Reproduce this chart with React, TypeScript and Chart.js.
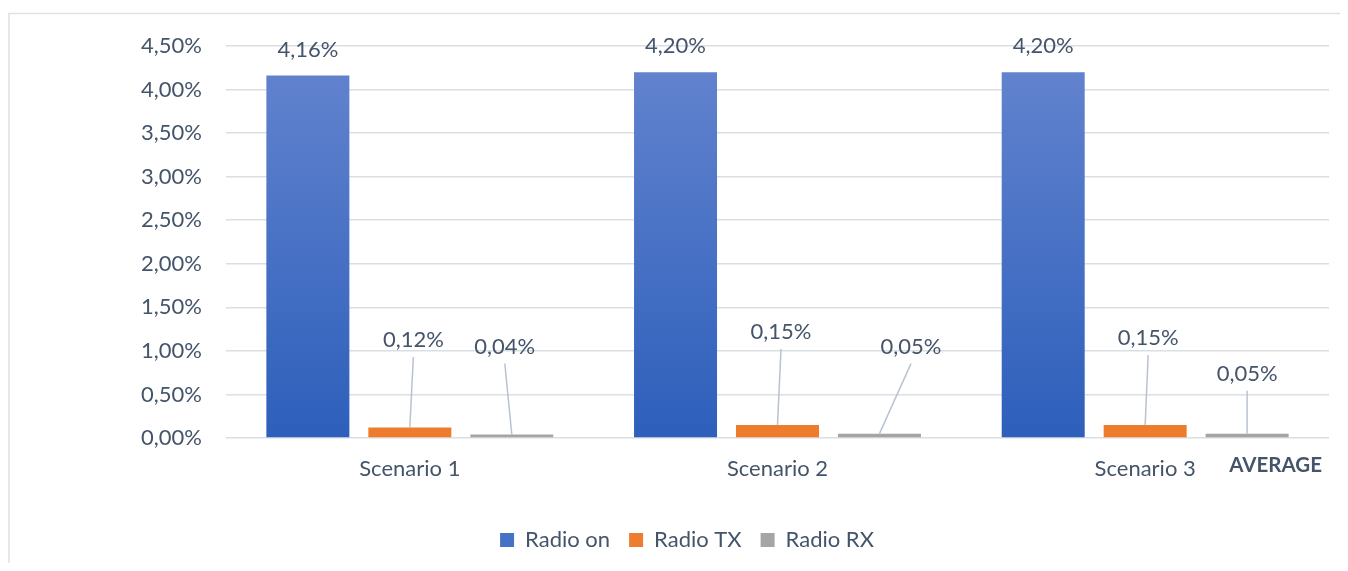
import React, { useEffect, useRef } from "react";
import { Chart, registerables } from "chart.js";

Chart.register(...registerables);

const categories = ["Scenario 1", "Scenario 2", "Scenario 3"];
const radioOn = [4.16, 4.2, 4.2];
const radioTX = [0.12, 0.15, 0.15];
const radioRX = [0.04, 0.05, 0.05];
const seriesNames = ["Radio on", "Radio TX", "Radio RX"];
const yTicks = [0, 0.5, 1, 1.5, 2, 2.5, 3, 3.5, 4, 4.5];
const axisNote = "AVERAGE";

// label placement (style): [dx, dy] from bar top centre to label centre; leader line when true
const labelOffsets: [number, number, boolean][][] = [
  [[0, -26, false], [0, -26, false], [0, -26, false]],
  [[3.5, -87.5, true], [3.5, -93, true], [3, -87, true]],
  [[-7, -88, true], [31.5, -87, true], [0, -60, true]],
];

const TEXT = "#44546a";
const FONT = "Lato, 'Open Sans', sans-serif";
const FS = 22;

const fmt = (v: number) => v.toFixed(2).replace(".", ",") + "%";

const labelPlugin = {
  id: "valueLabels",
  afterDatasetsDraw(chart: any) {
    const ctx = chart.ctx;
    ctx.save();
    ctx.font = `${FS}px ${FONT}`;
    ctx.fillStyle = TEXT;
    ctx.textAlign = "center";
    ctx.textBaseline = "middle";
    chart.data.datasets.forEach((ds: any, di: number) => {
      const meta = chart.getDatasetMeta(di);
      meta.data.forEach((bar: any, i: number) => {
        const [dx, dy, leader] = labelOffsets[di][i];
        const lx = bar.x + dx;
        const ly = bar.y + dy;
        ctx.fillStyle = TEXT;
        ctx.fillText(fmt(ds.data[i]), lx, ly);
        if (leader) {
          ctx.beginPath();
          ctx.strokeStyle = "#b9c3d0";
          ctx.lineWidth = 1.5;
          ctx.moveTo(lx, ly + 17);
          ctx.lineTo(bar.x, bar.y);
          ctx.stroke();
        }
      });
    });
    // axis note
    const ca = chart.chartArea;
    ctx.font = `bold 20.5px ${FONT}`;
    ctx.textAlign = "right";
    ctx.fillText(axisNote, ca.right - 7, ca.bottom + 27);
    // frame lines
    ctx.strokeStyle = "#dde2e8";
    ctx.lineWidth = 1.5;
    ctx.beginPath();
    ctx.moveTo(1, chart.height);
    ctx.lineTo(1, 5.5);
    ctx.lineTo(chart.width, 5.5);
    ctx.stroke();
    ctx.restore();
  },
};

function vGrad(chart: any, top: string, bottom: string) {
  const ca = chart.chartArea;
  if (!ca) return bottom;
  const g = chart.ctx.createLinearGradient(0, ca.top, 0, ca.bottom);
  g.addColorStop(0, top);
  g.addColorStop(1, bottom);
  return g;
}

export default function App() {
  const ref = useRef<HTMLCanvasElement | null>(null);
  useEffect(() => {
    if (!ref.current) return;
    const chart = new Chart(ref.current, {
      type: "bar",
      data: {
        labels: categories,
        datasets: [
          {
            label: seriesNames[0],
            data: radioOn,
            backgroundColor: (c: any) => vGrad(c.chart, "#6585cf", "#2d5fbb"),
          },
          {
            label: seriesNames[1],
            data: radioTX,
            backgroundColor: (c: any) => vGrad(c.chart, "#f7a56b", "#ee7b2c"),
          },
          {
            label: seriesNames[2],
            data: radioRX,
            backgroundColor: "#a5a5a5",
          },
        ],
      },
      options: {
        animation: false,
        responsive: true,
        maintainAspectRatio: false,
        datasets: { bar: { barPercentage: 0.814, categoryPercentage: 0.832 } },
        layout: { padding: { top: 38, right: 19, left: 37, bottom: 2 } },
        scales: {
          x: {
            grid: { display: false, drawTicks: false },
            border: { display: false },
            ticks: { color: TEXT, font: { family: FONT, size: FS }, padding: 18 },
            afterFit: (s: any) => {
              s.height = 72;
            },
          },
          y: {
            min: 0,
            max: 4.5,
            afterBuildTicks: (s: any) => {
              s.ticks = yTicks.map((v) => ({ value: v }));
            },
            grid: { color: "#dadfe6", lineWidth: 1.5, drawTicks: false },
            border: { display: false },
            ticks: {
              color: TEXT,
              font: { family: FONT, size: FS },
              padding: 24,
              callback: (v: any) => fmt(Number(v)),
            },
            afterFit: (s: any) => {
              s.width = 181;
            },
          },
        },
        plugins: {
          legend: {
            position: "bottom",
            labels: {
              color: TEXT,
              font: { family: FONT, size: FS },
              boxWidth: 14,
              boxHeight: 14,
              padding: 19,
              generateLabels: () =>
                seriesNames.map((n, i) => ({
                  text: n,
                  fillStyle: ["#4472c4", "#ed7d31", "#a5a5a5"][i],
                  strokeStyle: "transparent",
                  lineWidth: 0,
                  datasetIndex: i,
                  fontColor: TEXT,
                })),
            },
          },
          tooltip: { enabled: false },
        },
      },
      plugins: [labelPlugin],
    });
    return () => chart.destroy();
  }, []);
  return (
    <div style={{ width: 1340, height: 555, position: "relative" }}>
      <canvas ref={ref} />
    </div>
  );
}
